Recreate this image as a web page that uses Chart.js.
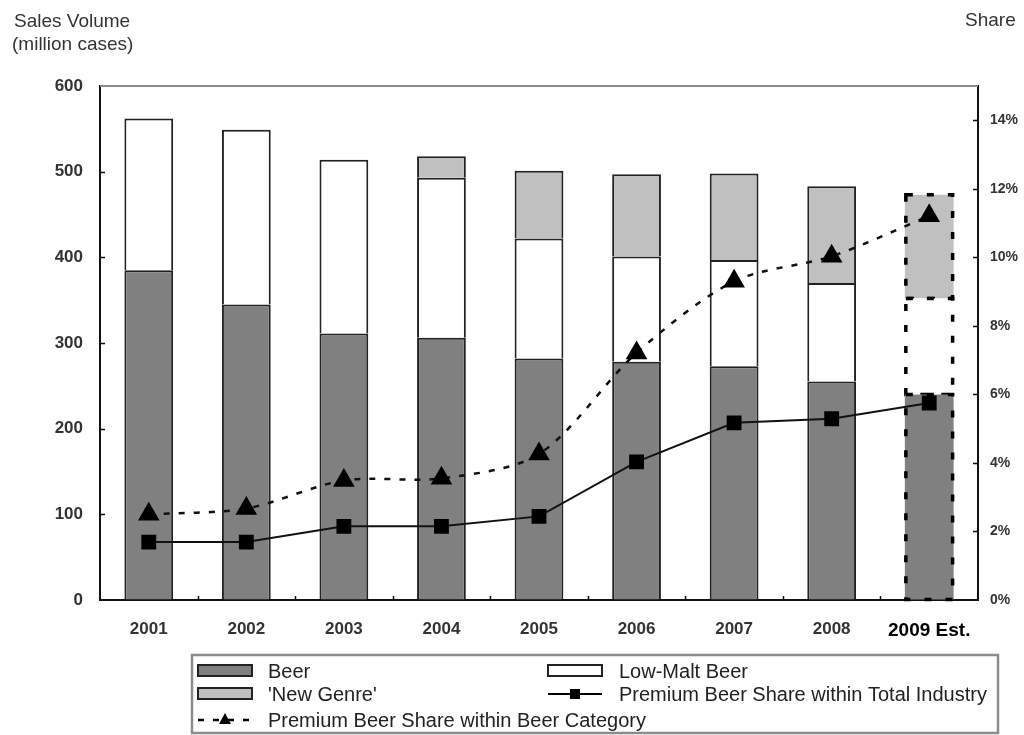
<!DOCTYPE html>
<html>
<head>
<meta charset="utf-8">
<title>Sales Volume and Premium Beer Share</title>
<script src="https://cdn.jsdelivr.net/npm/chart.js@4.4.1/dist/chart.umd.min.js"></script>
<style>
  html, body { margin: 0; padding: 0; background: #fff; }
  #wrap { width: 1024px; height: 735px; position: relative; }
</style>
</head>
<body>
<div id="wrap"><canvas id="chart" width="1024" height="735"></canvas></div>
<script>
// Categories (last one is an estimate)
const years = ['2001', '2002', '2003', '2004', '2005', '2006', '2007', '2008', '2009 Est.'];

// Sales volume, million cases
const beer      = [385, 345, 311, 306, 282, 278, 273, 255, 240];
const lowMalt   = [177, 204, 203, 187, 140, 123, 124, 115, 112];
const newGenre  = [null, null, null, 25, 79, 96, 101, 113, 121];

// Premium beer share, %
const shareTotalIndustry = [1.69, 1.69, 2.15, 2.15, 2.44, 4.03, 5.17, 5.29, 5.75];
const shareBeerCategory  = [2.5, 2.67, 3.49, 3.55, 4.26, 7.21, 9.3, 10.03, 11.21];

// Axis ticks
const volumeTicks = [0, 100, 200, 300, 400, 500, 600];
const shareTicks  = [0, 2, 4, 6, 8, 10, 12, 14];

const FONT = '"Liberation Sans", Arial, sans-serif';
const estIndex = years.length - 1;
const solidBorder = ctx => (ctx.dataIndex === estIndex ? 0 : 2);

const decor = {
  id: 'decor',
  afterDatasetDraw(chart, args) {
    // dashed outline on the estimated year's bar segments
    const ds = chart.data.datasets[args.index];
    if (ds.type !== 'bar') return;
    const el = args.meta.data[estIndex];
    if (!el) return;
    const p = el.getProps(['x', 'y', 'base', 'width'], true);
    if (!isFinite(p.y) || p.y === p.base) return;
    const c = chart.ctx;
    c.save();
    c.strokeStyle = '#000';
    c.lineWidth = 3.5;
    c.setLineDash([7, 14]);
    c.strokeRect(p.x - p.width / 2 + 1, p.y, p.width - 2, p.base - p.y);
    c.restore();
  },
  afterDraw(chart) {
    const c = chart.ctx;
    const a = chart.chartArea;
    const y = chart.scales.y, y1 = chart.scales.y1, x = chart.scales.x;
    c.save();

    // top frame line
    c.strokeStyle = '#8a8a8a';
    c.lineWidth = 2;
    c.beginPath();
    c.moveTo(a.left, a.top);
    c.lineTo(a.right, a.top);
    c.stroke();

    // inner tick marks
    c.strokeStyle = '#111';
    c.lineWidth = 1.5;
    c.beginPath();
    y.ticks.forEach(t => {
      const py = Math.round(y.getPixelForValue(t.value)) + 0.5;
      if (t.value <= 0 || t.value >= 600) return;
      c.moveTo(a.left, py); c.lineTo(a.left + 5, py);
    });
    y1.ticks.forEach(t => {
      const py = Math.round(y1.getPixelForValue(t.value)) + 0.5;
      if (t.value <= 0) return;
      c.moveTo(a.right, py); c.lineTo(a.right - 5, py);
    });
    const step = (a.right - a.left) / years.length;
    for (let i = 1; i < years.length; i++) {
      const px = Math.round(a.left + i * step) + 0.5;
      c.moveTo(px, a.bottom); c.lineTo(px, a.bottom - 4);
    }
    c.stroke();

    // axis titles
    c.fillStyle = '#333';
    c.font = '19px ' + FONT;
    c.textBaseline = 'alphabetic';
    c.textAlign = 'left';
    c.fillText('Sales Volume', 14, 27);
    c.fillText('(million cases)', 12, 50);
    c.fillText('Share', 965, 26);

    // legend
    const box = { l: 192, t: 655, r: 998, b: 733 };
    c.strokeStyle = '#8c8c8c';
    c.lineWidth = 2.5;
    c.strokeRect(box.l, box.t, box.r - box.l, box.b - box.t);

    const ds = chart.data.datasets;
    const items = [
      { d: ds[2], col: 0, row: 0 },
      { d: ds[3], col: 1, row: 0 },
      { d: ds[4], col: 0, row: 1 },
      { d: ds[0], col: 1, row: 1 },
      { d: ds[1], col: 0, row: 2 }
    ];
    const cols = [{ sx: 198, tx: 268 }, { sx: 548, tx: 619 }];
    const rows = [671, 694, 720];
    const sw = 54;
    items.forEach(it => {
      const cx = cols[it.col].sx, ty = rows[it.row];
      const d = it.d;
      if (d.type === 'bar') {
        c.fillStyle = d.backgroundColor;
        c.fillRect(cx, ty - 6, sw, 11);
        c.strokeStyle = '#222';
        c.lineWidth = 2;
        c.strokeRect(cx, ty - 6, sw, 11);
      } else {
        c.strokeStyle = '#000';
        c.lineWidth = d.borderWidth;
        c.setLineDash(d.borderDash || []);
        c.beginPath();
        c.moveTo(cx, ty); c.lineTo(cx + sw, ty);
        c.stroke();
        c.setLineDash([]);
        c.fillStyle = '#000';
        c.beginPath();
        if (d.pointStyle === 'rect') {
          c.rect(cx + sw / 2 - 5, ty - 5, 10, 10);
        } else {
          c.moveTo(cx + sw / 2, ty - 7);
          c.lineTo(cx + sw / 2 + 6, ty + 4);
          c.lineTo(cx + sw / 2 - 6, ty + 4);
          c.closePath();
        }
        c.fill();
      }
      c.fillStyle = '#222';
      c.font = '20px ' + FONT;
      c.textBaseline = 'middle';
      c.fillText(d.label, cols[it.col].tx, ty + 1);
    });
    c.restore();
  }
};

new Chart(document.getElementById('chart'), {
  data: {
    labels: years,
    datasets: [
      {
        type: 'line', label: 'Premium Beer Share within Total Industry',
        data: shareTotalIndustry, yAxisID: 'y1', order: 0,
        borderColor: '#111', borderWidth: 2, tension: 0,
        pointStyle: 'rect', pointRadius: 10.5, pointHoverRadius: 10.5,
        pointBackgroundColor: '#000', pointBorderWidth: 0
      },
      {
        type: 'line', label: 'Premium Beer Share within Beer Category',
        data: shareBeerCategory, yAxisID: 'y1', order: 0,
        borderColor: '#111', borderWidth: 2.5, borderDash: [6, 9], tension: 0.3,
        pointStyle: 'triangle', pointRadius: 12.5, pointHoverRadius: 12.5,
        pointBackgroundColor: '#000', pointBorderWidth: 0
      },
      {
        type: 'bar', label: 'Beer', data: beer, yAxisID: 'y', order: 1,
        backgroundColor: '#808080', borderColor: '#222', borderWidth: solidBorder
      },
      {
        type: 'bar', label: 'Low-Malt Beer', data: lowMalt, yAxisID: 'y', order: 1,
        backgroundColor: '#ffffff', borderColor: '#222', borderWidth: solidBorder
      },
      {
        type: 'bar', label: "'New Genre'", data: newGenre, yAxisID: 'y', order: 1,
        backgroundColor: '#c0c0c0', borderColor: '#222', borderWidth: solidBorder
      }
    ]
  },
  options: {
    responsive: false,
    devicePixelRatio: 1,
    animation: false,
    events: [],
    layout: { padding: { top: 86, left: 0, right: 0, bottom: 95 } },
    datasets: { bar: { barPercentage: 0.5, categoryPercentage: 1.0 } },
    plugins: { legend: { display: false }, tooltip: { enabled: false }, title: { display: false } },
    scales: {
      x: {
        stacked: true,
        grid: { display: true, drawOnChartArea: false, drawTicks: false },
        border: { display: true, color: '#111', width: 2 },
        ticks: {
          padding: 19,
          color: ctx => (ctx.index === estIndex ? '#000' : '#333'),
          font: ctx => (ctx.index === estIndex
            ? { family: FONT, size: 19, weight: 'bold' }
            : { family: FONT, size: 17, weight: 'bold' })
        },
        afterFit(s) { s.height = 40; }
      },
      y: {
        position: 'left', stacked: true,
        min: volumeTicks[0], max: volumeTicks[volumeTicks.length - 1],
        afterBuildTicks(s) { s.ticks = volumeTicks.map(v => ({ value: v })); },
        grid: { display: true, drawOnChartArea: false, drawTicks: false },
        border: { display: true, color: '#111', width: 2 },
        ticks: { padding: 17, color: '#333', font: { family: FONT, size: 17, weight: 'bold' } },
        afterFit(s) { s.width = 100; }
      },
      y1: {
        position: 'right',
        min: 0, max: 15,
        afterBuildTicks(s) { s.ticks = shareTicks.map(v => ({ value: v })); },
        grid: { display: true, drawOnChartArea: false, drawTicks: false },
        border: { display: true, color: '#111', width: 2 },
        ticks: {
          padding: 12, color: '#333',
          font: { family: FONT, size: 14, weight: 'bold' },
          callback: v => v + '%'
        },
        afterFit(s) { s.width = 46; }
      }
    }
  },
  plugins: [decor]
});
</script>
</body>
</html>
